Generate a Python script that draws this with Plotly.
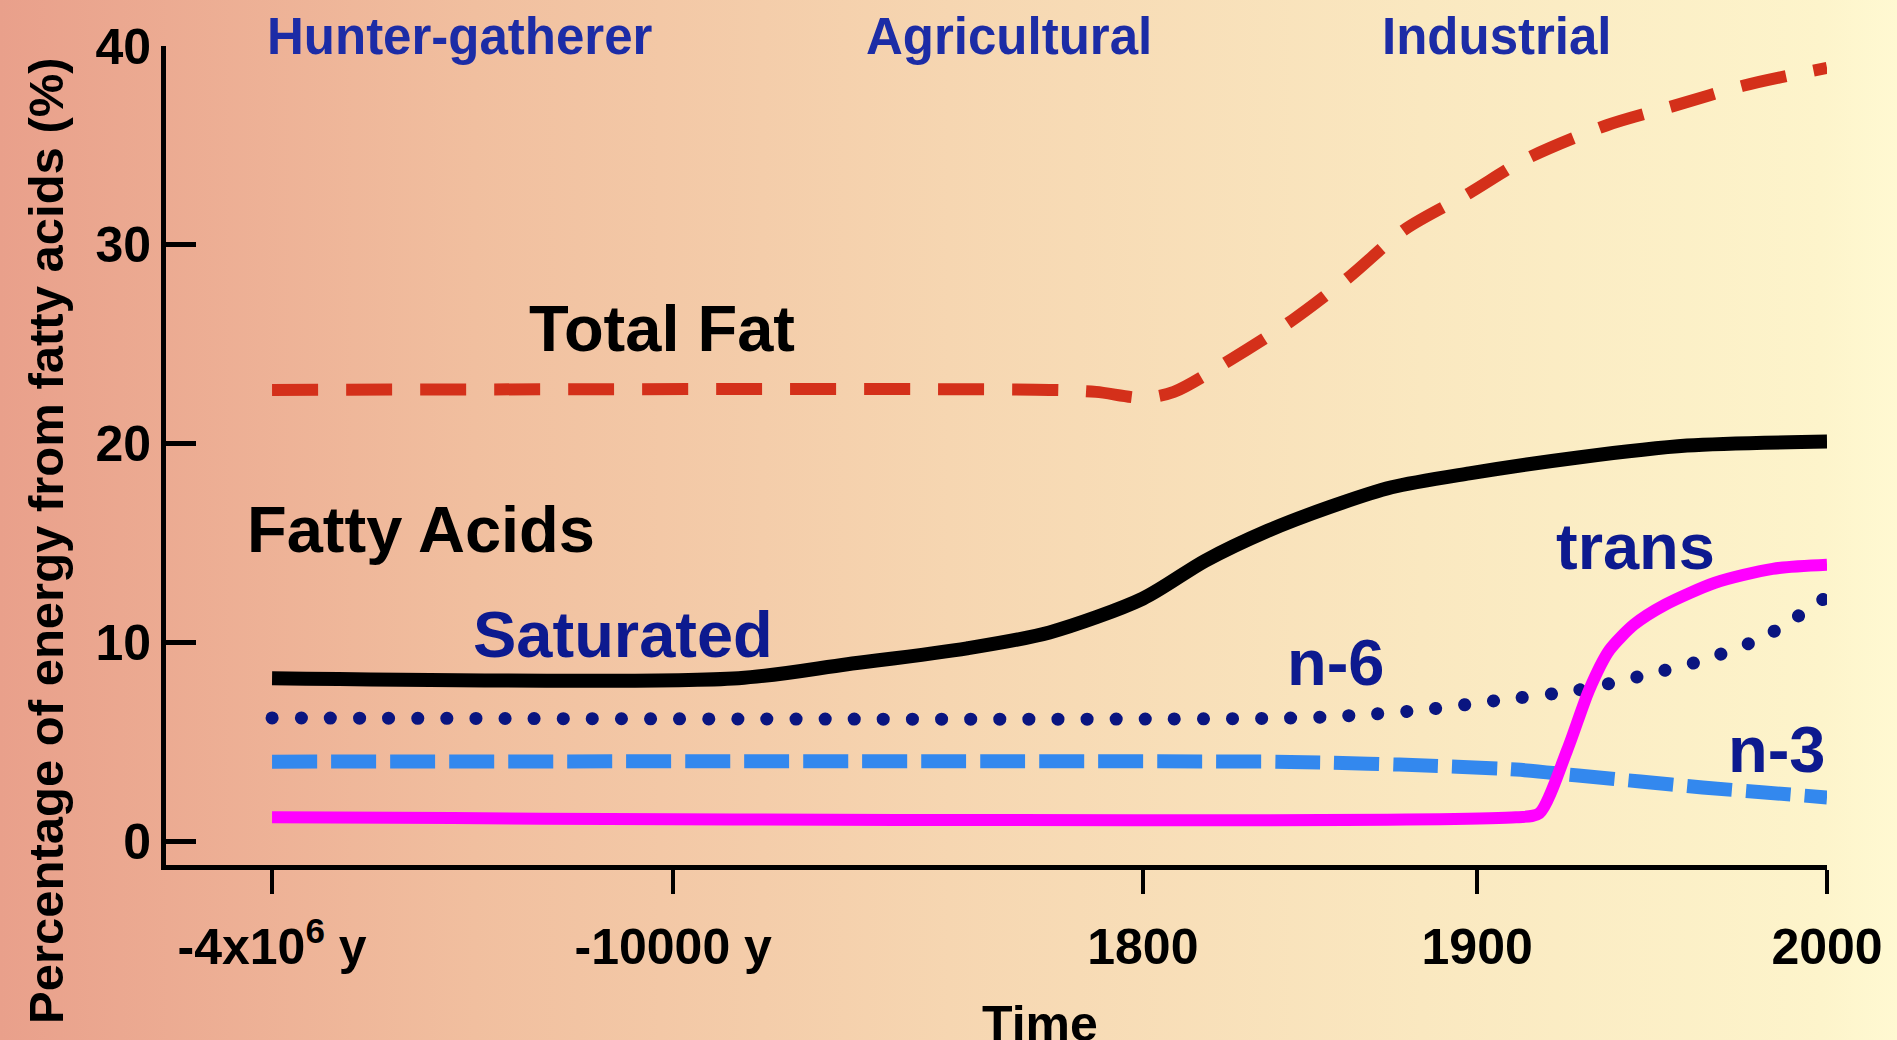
import base64
import plotly.graph_objects as go

# ---------------- data ----------------
x_tick_vals = [0, 25.8, 56.0, 77.5, 100]
x_tick_text = ["-4x10<sup>6</sup> y", "-10000 y", "1800", "1900", "2000"]
y_tick_vals = [0, 10, 20, 30, 40]

total_fat_x = [0, 50, 53, 56, 58, 61.6, 65.6, 69.3, 72.9, 77, 80.6, 85.8, 90.2, 94.6, 100]
total_fat_y = [22.7, 22.7, 22.6, 22.3, 22.6, 24.2, 26.2, 28.4, 30.8, 32.6, 34.3, 36.0, 37.0, 38.0, 38.9]

fatty_x = [0, 30, 37, 44.7, 50, 56, 60, 64, 68, 72, 77, 84, 91, 100]
fatty_y = [8.2, 8.2, 8.9, 9.7, 10.5, 12.2, 14.1, 15.6, 16.8, 17.8, 18.5, 19.3, 19.9, 20.1]

n6_x = [0, 66, 70, 74, 79, 84, 88, 92, 96, 100]
n6_y = [6.2, 6.2, 6.35, 6.6, 7.1, 7.6, 8.3, 9.1, 10.3, 12.3]

n3_x = [0, 64, 68, 72.5, 80, 84, 88, 92, 96, 100]
n3_y = [4.0, 4.0, 3.95, 3.85, 3.6, 3.3, 3.0, 2.7, 2.45, 2.2]

trans_x = [0, 80, 81.5, 83.3, 84.7, 86.0, 87.6, 89.6, 92.8, 96.5, 100]
trans_y = [1.2, 1.2, 1.4, 4.6, 7.6, 9.6, 10.9, 11.9, 13.0, 13.7, 13.9]

period_labels = ["Hunter-gatherer", "Agricultural", "Industrial"]
period_x = [12.1, 47.4, 78.8]

# ---------------- styling ----------------
W, H = 1897, 1040
ML, MR, MT, MB = 166, 70, 46, 175
PW, PH = W - ML - MR, H - MT - MB

NAVY = "#0d1a8f"
SANS = "Liberation Sans, Arial, sans-serif"

svg = (
    f'<svg xmlns="http://www.w3.org/2000/svg" width="{W}" height="{H}" preserveAspectRatio="none">'
    '<defs><linearGradient id="g" x1="0" y1="0" x2="1" y2="0">'
    '<stop offset="0" stop-color="#e9a08b"/>'
    '<stop offset="0.25" stop-color="#f1bf9f"/>'
    '<stop offset="0.5" stop-color="#f6d6b1"/>'
    '<stop offset="0.75" stop-color="#fae8c0"/>'
    '<stop offset="0.96" stop-color="#fdf4cb"/>'
    '<stop offset="1" stop-color="#fff9d2"/>'
    '</linearGradient></defs>'
    f'<rect width="{W}" height="{H}" fill="url(#g)"/></svg>'
)
bg_src = "data:image/svg+xml;base64," + base64.b64encode(svg.encode()).decode()

fig = go.Figure()

fig.add_trace(go.Scatter(x=total_fat_x, y=total_fat_y, mode="lines",
                         line=dict(color="#d4301a", width=12, dash="46px,28px", shape="spline", smoothing=0.8),
                         hoverinfo="skip"))
fig.add_trace(go.Scatter(x=fatty_x, y=fatty_y, mode="lines",
                         line=dict(color="#000000", width=14, shape="spline", smoothing=0.8),
                         hoverinfo="skip"))
fig.add_trace(go.Scatter(x=n6_x, y=n6_y, mode="lines",
                         line=dict(color="#0a1580", width=13, dash="12px,17px", shape="spline", smoothing=0.8),
                         hoverinfo="skip"))
fig.add_trace(go.Scatter(x=n3_x, y=n3_y, mode="lines",
                         line=dict(color="#3388ee", width=14, dash="45px,14px", shape="spline", smoothing=0.8),
                         hoverinfo="skip"))
fig.add_trace(go.Scatter(x=trans_x, y=trans_y, mode="lines",
                         line=dict(color="#ff00ff", width=12, shape="spline", smoothing=0.7),
                         hoverinfo="skip"))

annotations = []
for txt, px in zip(period_labels, period_x):
    annotations.append(dict(text=txt, x=px, xref="x", y=1.011, yref="paper",
                            showarrow=False, xanchor="center", yanchor="middle",
                            font=dict(family=SANS, size=51, color="#1c2ca6", weight="bold")))

chart_labels = [
    ("Total Fat", 25.1, 25.8, "#000000"),
    ("Fatty Acids", 9.6, 15.7, "#000000"),
    ("Saturated", 22.6, 10.4, NAVY),
    ("n-6", 68.4, 9.0, NAVY),
    ("trans", 87.7, 14.8, NAVY),
    ("n-3", 96.8, 4.6, NAVY),
]
for txt, lx, ly, col in chart_labels:
    annotations.append(dict(text=txt, x=lx, y=ly, xref="x", yref="y", showarrow=False,
                            xanchor="center", yanchor="middle",
                            font=dict(family=SANS, size=65, color=col, weight="bold")))

annotations.append(dict(text="Percentage of energy from fatty acids (%)", textangle=-90,
                        x=(46 - ML) / PW, y=(H - MB - 541) / PH, xref="paper", yref="paper",
                        showarrow=False, xanchor="center", yanchor="middle",
                        font=dict(family=SANS, size=49, color="#000000", weight="bold")))
annotations.append(dict(text="Time", x=49.4, xref="x", y=(H - MB - 994) / PH, yref="paper",
                        showarrow=False, xanchor="center", yanchor="top",
                        font=dict(family=SANS, size=50, color="#000000", weight="bold")))

fig.update_layout(
    width=W, height=H,
    margin=dict(l=ML, r=MR, t=MT, b=MB, pad=0),
    paper_bgcolor="rgba(0,0,0,0)", plot_bgcolor="rgba(0,0,0,0)",
    showlegend=False,
    images=[dict(source=bg_src, xref="paper", yref="paper", x=-ML / PW, y=1 + MT / PH,
                 sizex=W / PW, sizey=H / PH, sizing="stretch", xanchor="left", yanchor="top",
                 layer="below")],
    annotations=annotations,
    xaxis=dict(range=[-6.82, 100], showgrid=False, zeroline=False, showline=True,
               linecolor="#000000", linewidth=5, ticks="outside", ticklen=24, tickwidth=4,
               tickcolor="#000000", tickvals=x_tick_vals, ticktext=x_tick_text,
               ticklabelstandoff=10, ticklabeloverflow="allow",
               tickfont=dict(family=SANS, size=50, color="#000000", weight="bold")),
    yaxis=dict(range=[-1.2, 40], showgrid=False, zeroline=False, showline=True,
               linecolor="#000000", linewidth=5, ticks="inside", ticklen=30, tickwidth=5,
               tickcolor="#000000", tickvals=y_tick_vals, ticklabelstandoff=0,
               tickfont=dict(family=SANS, size=50, color="#000000", weight="bold")),
)

post = """
document.body.style.margin='0';
document.body.style.overflow='hidden';
var gd = document.getElementById('{plot_id}');
var tr = gd.querySelectorAll('.scatterlayer .trace')[2];
if (tr) { var p = tr.querySelector('.js-line'); if (p) { p.style.strokeLinecap='round'; p.style.strokeDasharray='0.1px,29px'; } }
"""

fig.write_html("out.html", post_script=post, config={"displayModeBar": False})
